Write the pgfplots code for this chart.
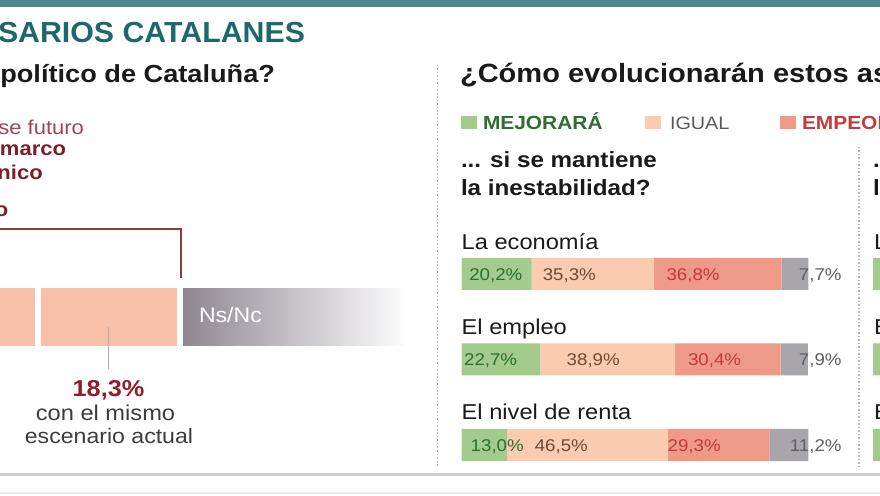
\documentclass[border=0pt]{standalone}
\usepackage{pgfplots}
\pgfplotsset{compat=1.18}
\usepackage{fontspec}
\setmainfont{Liberation Sans}[FakeStretch=1.1]
\newcommand\fs[1]{\fontsize{#1pt}{#1pt}\selectfont}
\definecolor{cTop}{HTML}{4F888D}
\definecolor{cTitle}{HTML}{1D686D}
\definecolor{cHead}{HTML}{1A1A1A}
\definecolor{cBrk}{HTML}{8C3B3F}
\definecolor{cRedDark}{HTML}{7D1F2A}
\definecolor{cRedLight}{HTML}{A3454C}
\definecolor{cRedNum}{HTML}{8E1E2C}
\definecolor{cSalmon}{HTML}{F8C0A9}
\definecolor{cNs}{HTML}{8D8590}
\definecolor{cPtr}{HTML}{C0A8A8}
\definecolor{cGrayTxt}{HTML}{3C3C3C}
\definecolor{cGreen}{HTML}{A2CB8C}
\definecolor{cIgual}{HTML}{FBCBB0}
\definecolor{cEmp}{HTML}{EF9A86}
\definecolor{cGray}{HTML}{A9A6AB}
\definecolor{cGreenTxt}{HTML}{2E6E33}
\definecolor{cBrownTxt}{HTML}{6E4A35}
\definecolor{cRedTxt}{HTML}{C23A3A}
\definecolor{cNumGray}{HTML}{5F5F5F}
\definecolor{cIgualTxt}{HTML}{5A5A5A}
\definecolor{cEmpTxt}{HTML}{C43B3B}
\definecolor{cDot}{HTML}{B8B8B8}
\definecolor{cLine}{HTML}{CFCFCF}
\definecolor{cFaint}{HTML}{ECECEC}
\tikzset{lab/.style={inner sep=0pt,outer sep=0pt,font=\fs{17}}}
\begin{document}
\begin{tikzpicture}[every node/.style={inner sep=0pt,outer sep=0pt}]
\useasboundingbox (0pt,0pt) rectangle (880pt,495pt);
\clip (0pt,0pt) rectangle (880pt,495pt);
% ---- left stacked bar (cropped) ----
\begin{axis}[at={(-20pt,0pt)},anchor=south west,scale only axis,
  width=428.5pt,height=495pt,xmin=44.56,xmax=100,ymin=0,ymax=495,
  hide axis,xbar stacked,bar width=63.7pt,clip=true]
\addplot[fill=cSalmon,draw=white,line width=6pt] coordinates {(52.1,177.8)};
\addplot[fill=cSalmon,draw=white,line width=6pt] coordinates {(18.3,177.8)};
\addplot[left color=cNs,middle color=cNs!55!white,right color=white,draw=white,line width=6pt] coordinates {(29.6,177.8)};
\end{axis}
% ---- right stacked bars ----
\begin{axis}[at={(461.7pt,0pt)},anchor=south west,scale only axis,
  width=346.6pt,height=495pt,xmin=0,xmax=100,ymin=0,ymax=495,
  hide axis,xbar stacked,bar width=32pt,clip=false]
\addplot[fill=cGreen,draw=none] coordinates {(20.2,221) (22.7,135.5) (13.0,50)};
\addplot[fill=cIgual,draw=none] coordinates {(35.3,221) (38.9,135.5) (46.5,50)};
\addplot[fill=cEmp,draw=none] coordinates {(36.8,221) (30.4,135.5) (29.3,50)};
\addplot[fill=cGray,draw=none] coordinates {(7.7,221) (7.9,135.5) (11.2,50)};
\end{axis}
% ---- third column (cropped at right edge) ----
\begin{axis}[at={(873pt,0pt)},anchor=south west,scale only axis,
  width=346.6pt,height=495pt,xmin=0,xmax=100,ymin=0,ymax=495,
  hide axis,xbar stacked,bar width=32pt,clip=false]
\addplot[fill=cGreen,draw=none] coordinates {(20,221) (20,135.5) (15,50)};
\end{axis}
% ---- annotations ----
\begin{scope}[x=1pt,y=1pt]
% bar value labels
\node[lab,anchor=base west,text=cGreenTxt] at (469.3,214.6) {20,2\%};
\node[lab,anchor=base west,text=cBrownTxt] at (542.8,214.6) {35,3\%};
\node[lab,anchor=base west,text=cRedTxt] at (666.5,214.6) {36,8\%};
\node[lab,anchor=base east,text=cNumGray] at (841.6,214.6) {7,7\%};
\node[lab,anchor=base west,text=cGreenTxt] at (464.1,129.1) {22,7\%};
\node[lab,anchor=base west,text=cBrownTxt] at (566.7,129.1) {38,9\%};
\node[lab,anchor=base west,text=cRedTxt] at (688.0,129.1) {30,4\%};
\node[lab,anchor=base east,text=cNumGray] at (841.6,129.1) {7,9\%};
\node[lab,anchor=base west,text=cGreenTxt] at (470.7,43.6) {13,0\%};
\node[lab,anchor=base west,text=cBrownTxt] at (534.8,43.6) {46,5\%};
\node[lab,anchor=base west,text=cRedTxt] at (667.6,43.6) {29,3\%};
\node[lab,anchor=base east,text=cNumGray] at (841.6,43.6) {11,2\%};
\fill[cTop] (0,487.5) rectangle (880,495);
\node[anchor=base east,text=cTitle,font=\fs{29}\bfseries] at (305,452) {\scalebox{0.95}[1]{SARIOS CATALANES}};
\node[anchor=base east,text=cHead,font=\fs{24.7}\bfseries] at (275,412) {político de Cataluña?};
\node[anchor=base west,text=cHead,font=\fs{26.4}\bfseries] at (460,412) {¿Cómo evolucionarán estos as};
% left fragments
\node[anchor=base east,text=cRedLight,font=\fs{20}] at (84,360) {se futuro};
\node[anchor=base east,text=cRedDark,font=\fs{20}\bfseries] at (66,339) {marco};
\node[anchor=base east,text=cRedDark,font=\fs{20}\bfseries] at (42.7,315.7) {nico};
\node[anchor=base east,text=cRedDark,font=\fs{20}\bfseries] at (8.3,278) {o};
\draw[cBrk,line width=2pt] (-2,265.5) -- (180.5,265.5) -- (180.5,217);
\node[anchor=base west,text=white,font=\fs{21}] at (199,172.3) {Ns/Nc};
\draw[cPtr,line width=1.3pt] (108.3,168) -- (108.3,126);
\node[anchor=base,text=cRedNum,font=\fs{23}\bfseries] at (108.5,98.3) {18,3\%};
\node[anchor=base,text=cGrayTxt,font=\fs{21.5}] at (105.5,74) {con el mismo};
\node[anchor=base,text=cGrayTxt,font=\fs{21}] at (109,51) {escenario actual};
% dotted separators
\draw[cDot,line width=1.2pt,dash pattern=on 1.5pt off 2pt] (437.5,430) -- (437.5,28);
\draw[cDot,line width=1.2pt,dash pattern=on 1.5pt off 2pt] (859,348) -- (859,28);
% legend
\fill[cGreen] (461,366) rectangle (477,379);
\node[anchor=base west,text=cGreenTxt,font=\fs{19}\bfseries] at (483,365.7) {MEJORARÁ};
\fill[cIgual] (645,366) rectangle (661,379);
\node[anchor=base west,text=cIgualTxt,font=\fs{18}] at (670,365.7) {IGUAL};
\fill[cEmp] (780,366) rectangle (796,379);
\node[anchor=base west,text=cEmpTxt,font=\fs{19}\bfseries] at (802,365.7) {EMPEORARÁ};
% sub headers
\node[anchor=base west,text=cHead,font=\fs{22}\bfseries] at (461,327) {... si se mantiene};
\node[anchor=base west,text=cHead,font=\fs{22}\bfseries] at (461,299) {la inestabilidad?};
\node[anchor=base west,text=cHead,font=\fs{22}\bfseries] at (873,327) {... si se};
\node[anchor=base west,text=cHead,font=\fs{22}\bfseries] at (873,299) {la estabilidad?};
% category labels
\node[anchor=base west,text=cHead,font=\fs{21.5}] at (461.7,245) {La economía};
\node[anchor=base west,text=cHead,font=\fs{21.5}] at (461.7,160) {El empleo};
\node[anchor=base west,text=cHead,font=\fs{21.5}] at (461.7,75) {El nivel de renta};
\node[anchor=base west,text=cHead,font=\fs{21.5}] at (874,245) {La economía};
\node[anchor=base west,text=cHead,font=\fs{21.5}] at (874,160) {El empleo};
\node[anchor=base west,text=cHead,font=\fs{21.5}] at (874,75) {El nivel de renta};
% bottom rules
\draw[cLine,line width=3pt] (0,20.5) -- (880,20.5);
\draw[cFaint,line width=1.5pt] (0,2) -- (880,2);
\end{scope}
\end{tikzpicture}
\end{document}
